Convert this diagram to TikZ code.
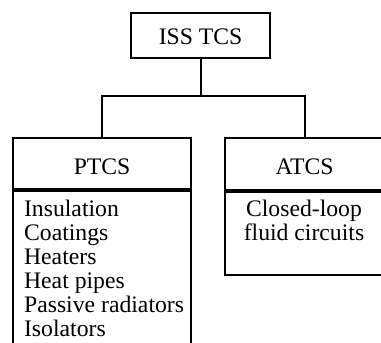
\documentclass[tikz,border=0pt]{standalone}
\usepackage{fontspec}
\setmainfont{Liberation Serif}
\begin{document}
\begin{tikzpicture}[x=1pt,y=1pt,line width=2.2pt,
  box/.style={draw,rectangle,inner sep=0pt},
  lbl/.style={font=\fontsize{23.7}{24}\selectfont},
  head/.style={box,lbl,text height=21pt,text depth=0pt}]
\useasboundingbox (0,0) rectangle (381,-343);
\clip (0,0) rectangle (381,-343);
\node[box,lbl,text height=17pt,text depth=0pt,minimum width=139,minimum height=45,anchor=north west] (top) at (130,-12) {ISS TCS};
\node[head,minimum width=178,minimum height=51,anchor=north west] (ptcs) at (12,-137) {PTCS};
\node[box,minimum width=178,minimum height=220,anchor=north] (pbody) at (ptcs.south) {};
\node[head,minimum width=159,minimum height=52,anchor=north west] (atcs) at (224,-137) {ATCS};
\node[box,minimum width=159,minimum height=83,anchor=north] (abody) at (atcs.south) {};
\node[lbl,align=left,anchor=north west,inner sep=0pt] (plist) at (23,-199)
  {Insulation\\Coatings\\Heaters\\Heat pipes\\Passive radiators\\Isolators};
\node[lbl,align=center,anchor=north,inner sep=0pt] (alist) at (304,-198.5)
  {Closed-loop\\fluid circuits};
\coordinate (j) at ([yshift=-37pt]top.south);
\draw (top.south) -- (j);
\draw (ptcs.north) |- (j) -| (atcs.north);
\end{tikzpicture}
\end{document}
